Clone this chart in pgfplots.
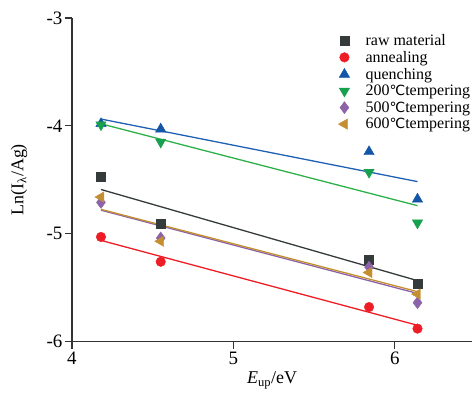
\documentclass[border=0pt]{standalone}
\usepackage{pgfplots}
\pgfplotsset{compat=1.18}
\usepackage{fontspec}
\setmainfont{Liberation Serif}
\newfontfamily\degfont{DejaVu Sans}
\newcommand{\degC}{{\degfont\fontsize{14}{16}\selectfont ℃}}
\newcommand{\lgap}{\hspace*{14pt}}
\definecolor{cRaw}{HTML}{353B3B}
\definecolor{cAnn}{HTML}{EE1D25}
\definecolor{cQue}{HTML}{1356A8}
\definecolor{cT2}{HTML}{17A04E}
\definecolor{cT5}{HTML}{8C63A8}
\definecolor{cT6}{HTML}{C48F30}
\definecolor{lQue}{HTML}{2060B4}
\definecolor{lT2}{HTML}{2DB04A}
\begin{document}
\begin{tikzpicture}
\begin{axis}[
  name=ax,
  scale only axis, width=401pt, height=324pt,
  xmin=4, xmax=6.48, ymin=-6, ymax=-3,
  axis x line=bottom, axis y line=left,
  axis line style={-, line width=1.2pt, color=black!80},
  xtick={4,5,6}, ytick={-6,-5,-4,-3},
  tick style={line width=1.2pt, color=black!80},
  tick align=outside, major tick length=7pt,
  minor tick num=0,
  /pgf/number format/assume math mode=true,
  ticklabel style={font=\fontsize{19}{21}\selectfont},
  yticklabel style={xshift=1pt},
  xlabel={\fontsize{18}{20}\selectfont\textit{E}\textsubscript{up}/eV},
  ylabel={\fontsize{18}{20}\selectfont Ln(I\textsubscript{λ}/Ag)},
  ylabel style={at={(axis description cs:-0.132,0.5)}, anchor=center},
  legend style={draw=none, fill=none, at={(0.665,0.957)}, anchor=north west,
    font=\fontsize{16}{17}\selectfont, row sep=0.4pt, inner sep=0pt},
  legend cell align=left,
]
\addplot[only marks, mark=square*, mark size=4.4pt, color=cRaw] coordinates {(4.18,-4.47) (4.55,-4.91) (5.84,-5.24) (6.14,-5.46)};
\addlegendentry{\lgap raw material}
\addplot[only marks, mark=*, mark size=4.8pt, color=cAnn] coordinates {(4.18,-5.03) (4.55,-5.26) (5.84,-5.68) (6.14,-5.88)};
\addlegendentry{\lgap annealing}
\addplot[only marks, mark=triangle*, mark size=6pt, color=cQue] coordinates {(4.18,-3.98) (4.55,-4.03) (5.84,-4.24) (6.14,-4.68)};
\addlegendentry{\lgap quenching}
\addplot[only marks, mark=triangle*, mark size=6pt, mark options={rotate=180}, color=cT2] coordinates {(4.18,-3.99) (4.55,-4.15) (5.84,-4.43) (6.14,-4.90)};
\addlegendentry{\lgap 200\degC tempering}
\addplot[only marks, mark=diamond*, mark size=6pt, color=cT5] coordinates {(4.18,-4.71) (4.55,-5.04) (5.84,-5.31) (6.14,-5.64)};
\addlegendentry{\lgap 500\degC tempering}
\addplot[only marks, mark=triangle*, mark size=6pt, mark options={rotate=90}, color=cT6] coordinates {(4.18,-4.66) (4.55,-5.07) (5.84,-5.36) (6.14,-5.56)};
\addlegendentry{\lgap 600\degC tempering}
\addplot[no marks, line width=1.3pt, color=cRaw, forget plot] coordinates {(4.18,-4.59) (6.14,-5.435)};
\addplot[no marks, line width=1.3pt, color=cAnn, forget plot] coordinates {(4.18,-5.062) (6.14,-5.849)};
\addplot[no marks, line width=1.3pt, color=lQue, forget plot] coordinates {(4.18,-3.937) (6.14,-4.517)};
\addplot[no marks, line width=1.3pt, color=lT2, forget plot] coordinates {(4.18,-3.981) (6.14,-4.740)};
\addplot[no marks, line width=1.3pt, color=cT5, forget plot] coordinates {(4.18,-4.782) (6.14,-5.554)};
\addplot[no marks, line width=1.3pt, color=cT6, forget plot] coordinates {(4.18,-4.774) (6.14,-5.537)};
\end{axis}
\path ([xshift=-72pt,yshift=-54pt]ax.south west) rectangle ([yshift=18pt]ax.north east);
\end{tikzpicture}
\end{document}
